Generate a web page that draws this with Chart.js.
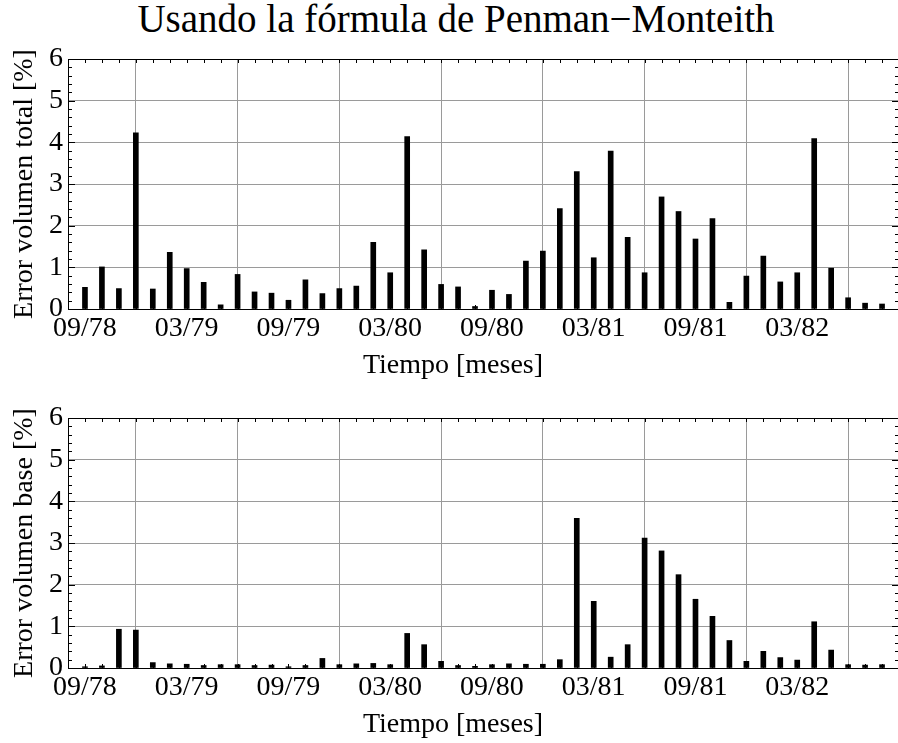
<!DOCTYPE html>
<html>
<head>
<meta charset="utf-8">
<script src="https://cdn.jsdelivr.net/npm/chart.js@4.4.0/dist/chart.umd.min.js"></script>
<style>
  html, body { margin: 0; padding: 0; background: #fff; overflow: hidden; }
  body { width: 898px; height: 743px; position: relative; font-family: "Liberation Serif", "DejaVu Serif", serif; color: #000; }
  canvas { position: absolute; left: 0; }
  .txt { position: absolute; left: 0; white-space: nowrap; text-align: center; }
  #titulo { top: -1px; width: 912px; font-size: 39px; line-height: 39px; }
  .xlab { width: 906px; font-size: 28px; line-height: 28px; }
</style>
</head>
<body>
<div id="titulo" class="txt">Usando la fórmula de Penman−Monteith</div>
<canvas id="total" width="900" height="359" style="top:0"></canvas>
<div class="txt xlab" style="top:350px">Tiempo [meses]</div>
<canvas id="base" width="900" height="384" style="top:359px"></canvas>
<div class="txt xlab" style="top:709px">Tiempo [meses]</div>

<script>
// Error mensual (%) desde 09/78 hasta 08/82, un valor por mes
const ERROR_TOTAL = [
  0.52, 1.01, 0.49, 4.23, 0.48, 1.36, 0.97, 0.64, 0.10, 0.83,
  0.41, 0.38, 0.21, 0.70, 0.37, 0.49, 0.55, 1.60, 0.87, 4.14,
  1.42, 0.59, 0.53, 0.06, 0.45, 0.35, 1.15, 1.39, 2.41, 3.30,
  1.23, 3.79, 1.72, 0.87, 2.69, 2.34, 1.68, 2.17, 0.16, 0.79,
  1.27, 0.65, 0.87, 4.09, 0.98, 0.27, 0.14, 0.12
];
const ERROR_BASE = [
  0.03, 0.05, 0.93, 0.91, 0.13, 0.10, 0.09, 0.06, 0.08, 0.08,
  0.06, 0.07, 0.03, 0.06, 0.23, 0.08, 0.10, 0.11, 0.08, 0.83,
  0.56, 0.16, 0.06, 0.04, 0.08, 0.10, 0.09, 0.09, 0.20, 3.59,
  1.60, 0.26, 0.56, 3.12, 2.81, 2.24, 1.65, 1.24, 0.66, 0.16,
  0.40, 0.25, 0.19, 1.11, 0.43, 0.08, 0.07, 0.08
];
// Marcas del eje de tiempo: mes (contado desde 09/78) y etiqueta
const TICK_MESES  = [0, 6, 12, 18, 24, 30, 36, 42];
const TICK_LABELS = ['09/78', '03/79', '09/79', '03/80', '09/80', '03/81', '09/81', '03/82'];

const FONT = "'Liberation Serif', 'DejaVu Serif', serif";
const GRID = '#9a9a9a';

// Marco negro con marcas interiores en los cuatro lados
const framePlugin = {
  id: 'frame',
  afterDatasetsDraw(chart) {
    const { ctx, chartArea: a, scales: { x, y } } = chart;
    ctx.save();
    ctx.strokeStyle = '#000';
    ctx.lineWidth = 1;
    ctx.beginPath();
    for (let i = 0; i <= 30; i++) {
      const v = i / 5;
      const py = Math.round(y.getPixelForValue(v)) + 0.5;
      const len = i % 5 === 0 ? 7 : 4;
      ctx.moveTo(a.left, py);  ctx.lineTo(a.left + len, py);
      ctx.moveTo(a.right, py); ctx.lineTo(a.right - len, py);
    }
    for (let m = -1; m <= 48; m++) {
      const px = Math.round(x.getPixelForValue(m)) + 0.5;
      ctx.moveTo(px, a.top);    ctx.lineTo(px, a.top + 4);
      ctx.moveTo(px, a.bottom); ctx.lineTo(px, a.bottom - 4);
    }
    ctx.stroke();
    ctx.strokeRect(Math.round(a.left) + 0.5, Math.round(a.top) + 0.5,
                   Math.round(a.right - a.left), Math.round(a.bottom - a.top));
    ctx.restore();
  }
};

function renderPanel(canvasId, values, yTitle, xHeight) {
  const canvas = document.getElementById(canvasId);
  return new Chart(canvas, {
    type: 'bar',
    data: {
      datasets: [{
        data: values.map((v, i) => ({ x: i, y: v })),
        backgroundColor: '#000',
        borderWidth: 0,
        barThickness: 5,
      }],
    },
    options: {
      responsive: false,
      animation: false,
      devicePixelRatio: 1,
      layout: { padding: { top: 59, right: 1, left: 0, bottom: 0 } },
      plugins: { legend: { display: false }, tooltip: { enabled: false } },
      scales: {
        x: {
          type: 'linear',
          min: -1,
          max: 48,
          offset: false,
          afterBuildTicks: s => { s.ticks = TICK_MESES.map(v => ({ value: v })); },
          afterFit: s => { s.height = xHeight; },
          ticks: {
            autoSkip: false,
            maxRotation: 0,
            padding: 3,
            color: '#000',
            font: { family: FONT, size: 28 },
            callback: (v, i) => TICK_LABELS[i],
          },
          grid: { color: GRID, lineWidth: 1, drawTicks: false },
          border: { display: true, color: '#000', width: 1 },
        },
        y: {
          min: 0,
          max: 6,
          afterFit: s => { s.width = 68; },
          ticks: {
            stepSize: 1,
            padding: 5,
            color: '#000',
            font: { family: FONT, size: 28 },
          },
          grid: { color: GRID, lineWidth: 1, drawTicks: false },
          border: { display: true, color: '#000', width: 1 },
          title: {
            display: true,
            text: yTitle,
            color: '#000',
            font: { family: FONT, size: 28 },
            padding: { top: 8, bottom: 0 },
          },
        },
      },
    },
    plugins: [framePlugin],
  });
}

renderPanel('total', ERROR_TOTAL, 'Error volumen total [%]', 50);
renderPanel('base', ERROR_BASE, 'Error volumen base [%]', 75);
</script>
</body>
</html>
